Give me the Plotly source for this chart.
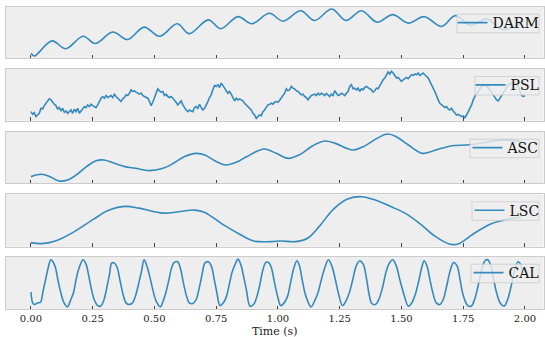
import numpy as np
import plotly.graph_objects as go

# ---------------- data ----------------
darm_t = [0.0, 0.014, 0.085, 0.141, 0.211, 0.261, 0.331, 0.392, 0.458, 0.521, 0.592, 0.641,
          0.718, 0.768, 0.838, 0.894, 0.965, 1.021, 1.092, 1.148, 1.218, 1.275, 1.338, 1.401,
          1.465, 1.528, 1.592, 1.662, 1.718, 1.78, 1.845, 1.91, 1.99]
darm_v = [13, 5, 51, 27, 65, 43, 78, 55, 93, 65, 103, 73,
          115, 88, 125, 103, 135, 111, 143, 113, 148, 113, 143, 108,
          131, 105, 125, 95, 128, 98, 118, 85, 108]

psl_v = [30, 22, 27, 15, 20, 25, 40, 38, 48,
         55, 62, 68, 65, 58, 52, 48, 38, 42, 32,
         40, 28, 32, 25, 30, 35, 25, 37, 30, 40,
         25, 32, 40, 45, 42, 50, 45, 52, 48, 45,
         42, 50, 60, 70, 75, 70, 78, 72, 75, 78,
         72, 82, 75, 70, 68, 60, 68, 72, 80, 78,
         85, 95, 90, 92, 88, 85, 82, 85, 78, 75,
         72, 70, 60, 48, 58, 70, 85, 98, 92, 88,
         90, 78, 82, 75, 72, 75, 70, 65, 58, 50,
         55, 62, 50, 40, 35, 30, 35, 32, 30, 42,
         45, 40, 52, 42, 35, 40, 48, 60, 72, 80,
         95, 108, 105, 110, 102, 115, 108, 98, 92, 85,
         90, 82, 72, 62, 70, 65, 68, 65, 62, 55,
         50, 45, 40, 35, 25, 20, 10, 15, 20, 18,
         30, 35, 45, 50, 52, 55, 52, 58, 60, 58,
         64, 70, 78, 85, 98, 92, 95, 105, 100, 98,
         92, 90, 85, 80, 82, 75, 72, 65, 72, 78,
         80, 82, 78, 85, 80, 85, 82, 78, 84, 80,
         75, 82, 78, 92, 85, 78, 80, 85, 82, 78,
         85, 90, 105, 110, 98, 100, 95, 100, 90, 98,
         95, 102, 105, 100, 98, 95, 88, 92, 100, 98,
         108, 115, 125, 130, 140, 148, 142, 150, 145, 138,
         130, 132, 125, 120, 125, 128, 132, 128, 135, 140,
         138, 142, 140, 145, 138, 142, 145, 140, 135, 130,
         120, 112, 100, 90, 75, 65, 55, 50, 45, 42,
         45, 38, 35, 40, 32, 25, 20, 22, 18, 15,
         17, 12, 20, 30, 40, 50, 65, 78, 85, 90,
         98, 105, 108, 110, 108, 102, 95, 88, 80, 72,
         65, 62, 70, 80, 90, 98, 105, 110, 112, 114,
         115, 115, 114, 105, 90, 78, 75, 78]
psl_t = np.linspace(0.0, 2.0, len(psl_v))

asc_t = [0.0, 0.042, 0.077, 0.113, 0.148, 0.183, 0.225, 0.261, 0.296, 0.338, 0.380, 0.423,
         0.479, 0.535, 0.577, 0.620, 0.669, 0.704, 0.746, 0.789, 0.831, 0.873, 0.944, 0.993,
         1.042, 1.085, 1.141, 1.190, 1.232, 1.303, 1.345, 1.401, 1.444, 1.479, 1.528, 1.585,
         1.627, 1.662, 1.704, 1.761, 1.803, 1.873, 1.915, 1.986]
asc_v = [23, 30, 23, 10, 13, 28, 53, 70, 73, 63, 53, 48,
         41, 48, 63, 83, 93, 88, 70, 58, 66, 83, 106, 93,
         78, 88, 116, 130, 123, 103, 113, 138, 151, 143, 118, 93,
         100, 108, 116, 118, 121, 130, 133, 128]

lsc_t = [0.0, 0.042, 0.099, 0.169, 0.254, 0.310, 0.380, 0.437, 0.535, 0.606, 0.662, 0.704,
         0.775, 0.845, 0.901, 0.972, 1.014, 1.070, 1.120, 1.169, 1.225, 1.282, 1.338, 1.394,
         1.465, 1.521, 1.577, 1.634, 1.697, 1.732, 1.789, 1.859, 1.930, 1.986]
lsc_v = [15, 12, 20, 45, 85, 110, 123, 118, 103, 108, 112, 105,
         70, 40, 20, 18, 20, 18, 28, 65, 115, 145, 152, 142,
         120, 100, 70, 35, 10, 12, 40, 70, 85, 90]

cal_t = [0.000, 0.007, 0.014, 0.028, 0.039, 0.049, 0.061, 0.070, 0.080, 0.089, 0.099, 0.110,
         0.121, 0.134, 0.148, 0.159, 0.172, 0.183, 0.194, 0.211, 0.223, 0.234, 0.245, 0.256,
         0.270, 0.282, 0.296, 0.307, 0.318, 0.327, 0.338, 0.349, 0.361, 0.373, 0.385, 0.397,
         0.411, 0.425, 0.437, 0.448, 0.458, 0.469, 0.482, 0.493, 0.507, 0.524, 0.535, 0.546,
         0.559, 0.570, 0.580, 0.594, 0.606, 0.617, 0.630, 0.641, 0.655, 0.669, 0.680, 0.693,
         0.704, 0.718, 0.730, 0.742, 0.754, 0.765, 0.779, 0.792, 0.803, 0.814, 0.827, 0.838,
         0.849, 0.862, 0.873, 0.887, 0.901, 0.915, 0.927, 0.938, 0.951, 0.962, 0.973, 0.986,
         1.000, 1.011, 1.025, 1.039, 1.051, 1.063, 1.077, 1.087, 1.099, 1.113, 1.134, 1.148,
         1.162, 1.176, 1.190, 1.204, 1.218, 1.232, 1.246, 1.261, 1.275, 1.289, 1.303, 1.317,
         1.331, 1.345, 1.359, 1.369, 1.380, 1.394, 1.408, 1.423, 1.437, 1.451, 1.465, 1.479,
         1.493, 1.510, 1.528, 1.542, 1.556, 1.570, 1.582, 1.592, 1.603, 1.615, 1.627, 1.641,
         1.655, 1.669, 1.683, 1.697, 1.711, 1.725, 1.737, 1.749, 1.768, 1.782, 1.796, 1.810,
         1.824, 1.838, 1.849, 1.862, 1.873, 1.887, 1.901, 1.915, 1.930, 1.944, 1.958, 1.972,
         1.982, 1.990]
cal_v = [54, 22, 17, 22, 24, 57, 97, 127, 150, 144, 127, 87,
         52, 22, 10, 27, 52, 92, 124, 150, 137, 102, 62, 32,
         14, 12, 32, 67, 107, 140, 140, 127, 87, 47, 22, 17,
         22, 47, 82, 117, 150, 132, 97, 62, 27, 10, 27, 52,
         92, 127, 142, 144, 122, 82, 42, 22, 20, 32, 62, 107,
         140, 144, 132, 92, 47, 14, 22, 42, 77, 112, 137, 152,
         137, 97, 57, 12, 17, 42, 77, 117, 142, 142, 127, 82,
         37, 14, 22, 42, 82, 122, 147, 132, 87, 42, 10, 27,
         52, 92, 127, 150, 132, 92, 47, 14, 27, 52, 92, 132,
         147, 137, 92, 47, 20, 17, 32, 67, 112, 140, 150, 132,
         92, 47, 12, 22, 47, 87, 127, 147, 132, 92, 52, 22,
         17, 32, 72, 117, 142, 132, 92, 47, 14, 12, 32, 72,
         117, 147, 150, 132, 92, 47, 20, 12, 32, 72, 117, 144,
         137, 112]

names = ["DARM", "PSL", "ASC", "LSC", "CAL"]
xs = [darm_t, psl_t, asc_t, lsc_t, cal_t]
ys = [darm_v, psl_v, asc_v, lsc_v, cal_v]
shapes_kind = ["spline", "linear", "spline", "spline", "spline"]

tick_vals = [0.0, 0.25, 0.5, 0.75, 1.0, 1.25, 1.5, 1.75, 2.0]

# ---------------- layout geometry (pixels) ----------------
W, H = 545, 337
panels_px = [(6.7, 58.3), (69.0, 120.7), (131.7, 183.3), (194.3, 246.7), (256.7, 309.3)]
x_left_px, x_right_px = 6.0, 543.5
legend_box_w = [82, 64, 69, 67, 68]     # legend frame widths (style)
LINE = "#348ABD"
FONT = "DejaVu Serif"

fig = go.Figure()
layout = dict(
    width=W, height=H,
    margin=dict(l=0, r=0, t=0, b=0),
    paper_bgcolor="white",
    plot_bgcolor="#EEEEEE",
    showlegend=True,
    font=dict(family=FONT, size=10, color="#222"),
)
shapes = []

xdom = [x_left_px / W, x_right_px / W]
for i, (name, x, y, shp) in enumerate(zip(names, xs, ys, shapes_kind)):
    k = "" if i == 0 else str(i + 1)
    leg = "legend" + k
    fig.add_trace(go.Scatter(
        x=x, y=y, mode="lines", name=name,
        line=dict(color=LINE, width=1.6, shape=shp, smoothing=1.0),
        xaxis="x" + k, yaxis="y" + k, legend=leg,
    ))
    top, bot = panels_px[i]
    ydom = [1 - bot / H, 1 - top / H]
    vmin, vmax = float(np.min(y)), float(np.max(y))
    pad = 0.05 * (vmax - vmin)
    layout["xaxis" + k] = dict(
        domain=xdom, anchor="y" + k, range=[-0.101, 2.075],
        tickvals=tick_vals, tickformat=".2f",
        ticks="inside", ticklen=3.5, tickwidth=1, tickcolor="#444",
        showticklabels=(i == 4),
        tickfont=dict(family=FONT, size=10, color="#222"),
        showline=True, mirror=True, linecolor="#cccccc", linewidth=1,
        showgrid=False, zeroline=False,
        **({} if i == 0 else {"matches": "x"}),
    )
    layout["yaxis" + k] = dict(
        domain=ydom, anchor="x" + k, range=[vmin - pad, vmax + pad],
        showticklabels=False, ticks="",
        showline=True, mirror=True, linecolor="#cccccc", linewidth=1,
        showgrid=False, zeroline=False,
    )
    # legend frame (semi-transparent, like matplotlib's framealpha=0.8)
    bx1 = 539.0
    bx0 = bx1 - legend_box_w[i]
    shapes.append(dict(
        type="rect", xref="paper", yref="paper", layer="above",
        x0=bx0 / W, x1=bx1 / W, y0=1 - (top + 26.0) / H, y1=1 - (top + 7.5) / H,
        fillcolor="rgba(238,238,238,0.8)",
        line=dict(color="rgba(204,204,204,0.8)", width=1),
    ))
    layout[leg] = dict(
        x=544.5 / W, xanchor="right",
        y=1 - (top + 0.3) / H, yanchor="top",
        bgcolor="rgba(0,0,0,0)", borderwidth=0,
        font=dict(family=FONT, size=14, color="#111"),
        itemwidth=30,
    )

layout["shapes"] = shapes
layout["annotations"] = [dict(
    text="Time (s)", xref="paper", yref="paper",
    x=(x_left_px + x_right_px) / 2 / W, y=1 - 331 / H,
    xanchor="center", yanchor="middle", showarrow=False,
    font=dict(family=FONT, size=11, color="#222"),
)]

fig.update_layout(**layout)
fig.write_html(
    "out.html",
    config={"displayModeBar": False},
    post_script="document.body.style.margin='0';document.body.style.padding='0';",
)
